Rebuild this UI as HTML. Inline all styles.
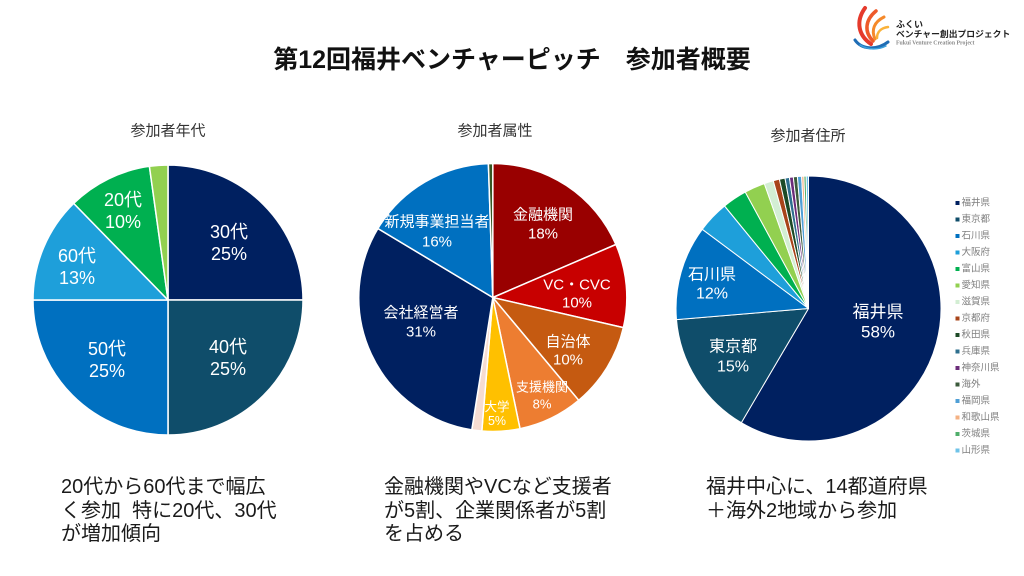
<!DOCTYPE html>
<html lang="ja">
<head>
<meta charset="utf-8">
<style>
  html,body{margin:0;padding:0;background:#fff;}
  body{width:1024px;height:576px;overflow:hidden;}
  svg{display:block;}
  text{font-family:"Liberation Sans","Noto Sans CJK JP",sans-serif;}
</style>
</head>
<body>
<svg width="1024" height="576" viewBox="0 0 1024 576" xmlns="http://www.w3.org/2000/svg">
  <rect x="0" y="0" width="1024" height="576" fill="#ffffff"/>

  <!-- Logo -->
  <g fill="none" stroke-linecap="round">
    <path d="M871,44 C859,36 855,22 865,8" stroke="#e53a2c" stroke-width="4"/>
    <path d="M873,41 C864,32 865,20 876,11" stroke="#ee5a2a" stroke-width="3.5"/>
    <path d="M875,39 C871,30 874,22 884,17" stroke="#f5892a" stroke-width="3"/>
    <path d="M877,38 C877,32 881,28 888,27" stroke="#fab23a" stroke-width="2.5"/>
    <path d="M855,40 C861,49 876,51 888,42" stroke="#1f6db5" stroke-width="3"/>
    <path d="M860,45 C868,50 878,50 886,46" stroke="#3aa0dc" stroke-width="1.5"/>
  </g>
  <text x="896" y="24.5" font-size="9" font-weight="700" fill="#222" dominant-baseline="central">ふくい</text>
  <text x="896" y="34" font-size="8.8" font-weight="700" fill="#222" dominant-baseline="central">ベンチャー創出プロジェクト</text>
  <text x="896" y="43.7" font-size="5.8" font-weight="700" fill="#8a8a8a" dominant-baseline="central" style="font-family:'Liberation Serif',serif">Fukui Venture Creation Project</text>

  <!-- Title -->
  <text x="512" y="60" font-size="25" font-weight="700" fill="#111" text-anchor="middle" dominant-baseline="central">第12回福井ベンチャーピッチ　参加者概要</text>

  <!-- Section titles -->
  <text x="168" y="131" font-size="15" fill="#333" text-anchor="middle" dominant-baseline="central">参加者年代</text>
  <text x="495" y="131" font-size="15" fill="#333" text-anchor="middle" dominant-baseline="central">参加者属性</text>
  <text x="808" y="136" font-size="15" fill="#333" text-anchor="middle" dominant-baseline="central">参加者住所</text>

  <!-- Pie 1 -->
  <g stroke="#ffffff" stroke-width="1.5" stroke-linejoin="round">
    <path d="M168,300 L168,165 A135,135 0 0 1 303,300 Z" fill="#002060"/>
    <path d="M168,300 L303,300 A135,135 0 0 1 168,435 Z" fill="#0f4d6a"/>
    <path d="M168,300 L168,435 A135,135 0 0 1 33,300 Z" fill="#0070c0"/>
    <path d="M168,300 L33,300 A135,135 0 0 1 73.7,203.4 Z" fill="#1e9fda"/>
    <path d="M168,300 L73.7,203.4 A135,135 0 0 1 149.4,166.3 Z" fill="#00b050"/>
    <path d="M168,300 L149.4,166.3 A135,135 0 0 1 168,165 Z" fill="#92d050"/>
  </g>
  <g font-size="18" fill="#ffffff" text-anchor="middle" dominant-baseline="central">
    <text x="229" y="232">30代</text><text x="229" y="254">25%</text>
    <text x="228" y="347">40代</text><text x="228" y="369">25%</text>
    <text x="107" y="349">50代</text><text x="107" y="371">25%</text>
    <text x="77" y="256">60代</text><text x="77" y="278">13%</text>
    <text x="123" y="200">20代</text><text x="123" y="222">10%</text>
  </g>

  <!-- Pie 2 -->
  <g stroke="#ffffff" stroke-width="1.5" stroke-linejoin="round">
    <path d="M492.8,297.5 L492.8,163.5 A134,134 0 0 1 615.9,244.5 Z" fill="#990000"/>
    <path d="M492.8,297.5 L615.9,244.5 A134,134 0 0 1 623.4,327.6 Z" fill="#c80000"/>
    <path d="M492.8,297.5 L623.4,327.6 A134,134 0 0 1 578.7,400.3 Z" fill="#c55a11"/>
    <path d="M492.8,297.5 L578.7,400.3 A134,134 0 0 1 520.0,428.7 Z" fill="#ed7d31"/>
    <path d="M492.8,297.5 L520.0,428.7 A134,134 0 0 1 481.8,431.0 Z" fill="#ffc000"/>
    <path d="M492.8,297.5 L481.8,431.0 A134,134 0 0 1 471.8,429.9 Z" fill="#f6dcd2"/>
    <path d="M492.8,297.5 L471.8,429.9 A134,134 0 0 1 377.9,228.5 Z" fill="#002060"/>
    <path d="M492.8,297.5 L377.9,228.5 A134,134 0 0 1 488.4,163.6 Z" fill="#0070c0"/>
    <path d="M492.8,297.5 L488.4,163.6 A134,134 0 0 1 492.8,163.5 Z" fill="#375623"/>
  </g>
  <g font-size="15" fill="#ffffff" text-anchor="middle" dominant-baseline="central">
    <text x="543" y="215">金融機関</text><text x="543" y="234">18%</text>
    <text x="577" y="285">VC・CVC</text><text x="577" y="303">10%</text>
    <text x="568" y="342">自治体</text><text x="568" y="360">10%</text>
    <text x="421" y="313">会社経営者</text><text x="421" y="332">31%</text>
    <text x="437" y="222">新規事業担当者</text><text x="437" y="242">16%</text>
  </g>
  <g font-size="13" fill="#ffffff" text-anchor="middle" dominant-baseline="central">
    <text x="542" y="387">支援機関</text><text x="542" y="404">8%</text>
  </g>
  <g font-size="12.5" fill="#ffffff" text-anchor="middle" dominant-baseline="central">
    <text x="497" y="407">大学</text><text x="497" y="421">5%</text>
  </g>

  <!-- Pie 3 -->
  <g stroke="#ffffff" stroke-width="1" stroke-linejoin="round">
    <path d="M808.5,308.5 L808.5,176 A132.5,132.5 0 1 1 741.3,422.7 Z" fill="#002060"/>
    <path d="M808.5,308.5 L741.3,422.7 A132.5,132.5 0 0 1 676.5,319.6 Z" fill="#0f4d6a"/>
    <path d="M808.5,308.5 L676.5,319.6 A132.5,132.5 0 0 1 702.3,229.3 Z" fill="#0070c0"/>
    <path d="M808.5,308.5 L702.3,229.3 A132.5,132.5 0 0 1 724.6,206.0 Z" fill="#1e9fda"/>
    <path d="M808.5,308.5 L724.6,206.0 A132.5,132.5 0 0 1 745.3,192.1 Z" fill="#00b050"/>
    <path d="M808.5,308.5 L745.3,192.1 A132.5,132.5 0 0 1 764.3,183.6 Z" fill="#92d050"/>
    <path d="M808.5,308.5 L764.3,183.6 A132.5,132.5 0 0 1 773.3,180.8 Z" fill="#d3eed3"/>
    <path d="M808.5,308.5 L773.3,180.8 A132.5,132.5 0 0 1 779.4,179.2 Z" fill="#a8441a"/>
    <path d="M808.5,308.5 L779.4,179.2 A132.5,132.5 0 0 1 785.0,178.1 Z" fill="#1d4a26"/>
    <path d="M808.5,308.5 L785.0,178.1 A132.5,132.5 0 0 1 789.4,177.4 Z" fill="#2e6f8e"/>
    <path d="M808.5,308.5 L789.4,177.4 A132.5,132.5 0 0 1 793.3,176.9 Z" fill="#6b2c7a"/>
    <path d="M808.5,308.5 L793.3,176.9 A132.5,132.5 0 0 1 797.4,176.5 Z" fill="#3b5a3b"/>
    <path d="M808.5,308.5 L797.4,176.5 A132.5,132.5 0 0 1 801.6,176.2 Z" fill="#4f9fd6"/>
    <path d="M808.5,308.5 L801.6,176.2 A132.5,132.5 0 0 1 803.9,176.1 Z" fill="#f4b183"/>
    <path d="M808.5,308.5 L803.9,176.1 A132.5,132.5 0 0 1 806.2,176.0 Z" fill="#4fae6a"/>
    <path d="M808.5,308.5 L806.2,176.0 A132.5,132.5 0 0 1 808.5,176 Z" fill="#6fc3e8"/>
  </g>
  <g fill="#ffffff" text-anchor="middle" dominant-baseline="central">
    <text x="878" y="312" font-size="17">福井県</text><text x="878" y="332" font-size="17">58%</text>
    <text x="733" y="347" font-size="16">東京都</text><text x="733" y="367" font-size="16">15%</text>
    <text x="712" y="275" font-size="16">石川県</text><text x="712" y="294" font-size="16">12%</text>
  </g>

  <!-- Legend -->
  <g font-size="9.5" fill="#7f7f7f" dominant-baseline="central">
    <rect x="955.5" y="201" width="4" height="4" fill="#002060"/><text x="961.5" y="203">福井県</text>
    <rect x="955.5" y="217.5" width="4" height="4" fill="#0f4d6a"/><text x="961.5" y="219.5">東京都</text>
    <rect x="955.5" y="234" width="4" height="4" fill="#0070c0"/><text x="961.5" y="236">石川県</text>
    <rect x="955.5" y="250.5" width="4" height="4" fill="#1e9fda"/><text x="961.5" y="252.5">大阪府</text>
    <rect x="955.5" y="267" width="4" height="4" fill="#00b050"/><text x="961.5" y="269">富山県</text>
    <rect x="955.5" y="283.5" width="4" height="4" fill="#92d050"/><text x="961.5" y="285.5">愛知県</text>
    <rect x="955.5" y="300" width="4" height="4" fill="#d3eed3"/><text x="961.5" y="302">滋賀県</text>
    <rect x="955.5" y="316.5" width="4" height="4" fill="#a8441a"/><text x="961.5" y="318.5">京都府</text>
    <rect x="955.5" y="333" width="4" height="4" fill="#1d4a26"/><text x="961.5" y="335">秋田県</text>
    <rect x="955.5" y="349.5" width="4" height="4" fill="#2e6f8e"/><text x="961.5" y="351.5">兵庫県</text>
    <rect x="955.5" y="366" width="4" height="4" fill="#6b2c7a"/><text x="961.5" y="368">神奈川県</text>
    <rect x="955.5" y="382.5" width="4" height="4" fill="#3b5a3b"/><text x="961.5" y="384.5">海外</text>
    <rect x="955.5" y="399" width="4" height="4" fill="#4f9fd6"/><text x="961.5" y="401">福岡県</text>
    <rect x="955.5" y="415.5" width="4" height="4" fill="#f4b183"/><text x="961.5" y="417.5">和歌山県</text>
    <rect x="955.5" y="432" width="4" height="4" fill="#4fae6a"/><text x="961.5" y="434">茨城県</text>
    <rect x="955.5" y="448.5" width="4" height="4" fill="#6fc3e8"/><text x="961.5" y="450.5">山形県</text>
  </g>

  <!-- Bottom texts -->
  <g font-size="20" fill="#1a1a1a" dominant-baseline="central">
    <text x="61" y="487">20代から60代まで幅広</text>
    <text x="61" y="511" xml:space="preserve">く参加  特に20代、30代</text>
    <text x="61" y="534">が増加傾向</text>

    <text x="384" y="487">金融機関やVCなど支援者</text>
    <text x="384" y="511">が5割、企業関係者が5割</text>
    <text x="384" y="534">を占める</text>

    <text x="706" y="487">福井中心に、14都道府県</text>
    <text x="706" y="511">＋海外2地域から参加</text>
  </g>
</svg>
</body>
</html>
